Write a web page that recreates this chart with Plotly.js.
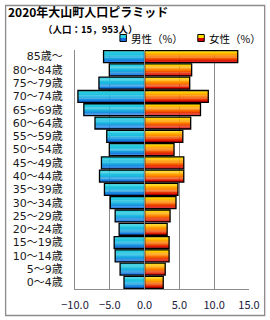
<!DOCTYPE html>
<html>
<head>
<meta charset="utf-8">
<script src="https://cdn.plot.ly/plotly-3.0.1.min.js"></script>
<style>
html,body{margin:0;padding:0;background:#fff;}
#chart{width:270px;height:320px;}
</style>
</head>
<body>
<div id="chart"></div>
<script>
// ---- data ----
const ageGroups = ["0～4歳","5～9歳","10～14歳","15～19歳","20～24歳","25～29歳","30～34歳","35～39歳","40～44歳","45～49歳","50～54歳","55～59歳","60～64歳","65～69歳","70～74歳","75～79歳","80～84歳","85歳～"];
const maleShare = [-2.96,-3.52,-4.23,-4.37,-3.66,-4.23,-4.93,-5.77,-6.48,-6.2,-5.07,-5.44,-7.13,-8.73,-9.58,-6.56,-5.07,-5.9];
const femaleShare = [2.68,2.96,3.52,3.52,3.24,3.66,4.51,4.79,5.63,5.63,4.23,5.49,6.62,8.03,9.15,6.48,6.76,13.38];
const xTicks = [-10,-5,0,5,10,15];
const titleText = "2020年大山町人口ピラミッド";
const subtitleText = "（人口：15，953人）";
const maleName = "男性（%）";
const femaleName = "女性（%）";

// ---- layout geometry ----
const L = 75, R = 249.3, T = 50, B = 289;
const W = 270, H = 320;
const px2x = p => (p - L) / (R - L);
const py2y = p => (B - p) / (B - T);

function lerp(a, b, t){ return a.map((v,i)=>Math.round(v + (b[i]-v)*t)); }
function grad(stops, t){
  const n = stops.length - 1;
  const k = Math.min(n-1, Math.floor(t*n));
  const tt = t*n - k;
  const c = lerp(stops[k], stops[k+1], tt);
  return `rgb(${c[0]},${c[1]},${c[2]})`;
}
const maleStops = [[40,210,222],[30,185,225],[20,110,222]];
const femaleStops = [[255,225,0],[255,130,0],[215,0,0]];

const BW = 0.9, N = 10;
const traces = [];
function addSeries(vals, stops){
  for (let i = 0; i < N; i++){
    traces.push({
      type:'bar', orientation:'h', y: ageGroups, x: vals,
      width: BW/N + 0.01, offset: BW/2 - (i+1)*BW/N,
      marker:{color: grad(stops, i/(N-1)), line:{width:0}},
      showlegend:false, hoverinfo:'skip'
    });
  }
  traces.push({
    type:'bar', orientation:'h', y: ageGroups, x: vals,
    width: BW, offset: -BW/2,
    marker:{color:'rgba(0,0,0,0)', line:{width:1.3, color:'#000'}},
    showlegend:false
  });
}
addSeries(maleShare, maleStops);
addSeries(femaleShare, femaleStops);

const font = "'Noto Sans CJK JP', 'Noto Sans', sans-serif";
const labelFont = "'DejaVu Sans', 'Noto Sans CJK JP', sans-serif";
const gray = '#8c8c8c';

function legendBox(x0, stops){
  return [
    {type:'rect', xref:'paper', yref:'paper', x0:px2x(x0), x1:px2x(x0+6.5), y0:py2y(38), y1:py2y(34.5), fillcolor:grad(stops,0), line:{width:0}},
    {type:'rect', xref:'paper', yref:'paper', x0:px2x(x0), x1:px2x(x0+6.5), y0:py2y(41.5), y1:py2y(38), fillcolor:grad(stops,1), line:{width:0}},
    {type:'rect', xref:'paper', yref:'paper', x0:px2x(x0), x1:px2x(x0+6.5), y0:py2y(41.5), y1:py2y(34.5), fillcolor:'rgba(0,0,0,0)', line:{width:1, color:'#000'}}
  ];
}

const layout = {
  width: W, height: H,
  margin:{l:L, r:W-R, t:T, b:H-B, pad:0},
  paper_bgcolor:'#fff', plot_bgcolor:'#fff',
  barmode:'overlay',
  showlegend:false,
  font:{family:font, size:11, color:'#1a1a1a'},
  title:{text:'<b>'+titleText+'</b>', xref:'container', yref:'container', x:8/W, xanchor:'left', y:1-12.5/H, yanchor:'middle', font:{family:font, size:12, color:'#000'}},
  xaxis:{
    range:[-10,15], tickvals:xTicks, tickformat:'.1f', fixedrange:true,
    showgrid:true, gridcolor:gray, gridwidth:1,
    zeroline:true, zerolinecolor:gray, zerolinewidth:1.2, zerolinelayer:'above traces',
    showline:true, linecolor:gray, linewidth:1,
    ticks:'', ticklabelstandoff:6,
    tickfont:{family:font, size:11, color:'#1a1a3a'}
  },
  yaxis:{
    type:'category', categoryorder:'array', categoryarray:ageGroups, fixedrange:true,
    range:[-0.5, ageGroups.length-0.5],
    showgrid:false, zeroline:false,
    showline:true, linecolor:gray, linewidth:1,
    ticks:'', ticklabelstandoff:9,
    tickfont:{family:labelFont, size:11, color:'#1a1a1a'}
  },
  annotations:[
    {text:'<b>'+subtitleText+'</b>', xref:'paper', yref:'paper', x:px2x(41), y:py2y(28.5), xanchor:'left', yanchor:'middle', showarrow:false, font:{family:font, size:9.5, color:'#000'}},
    {text:maleName, xref:'paper', yref:'paper', x:px2x(129), y:py2y(38.5), xanchor:'left', yanchor:'middle', showarrow:false, font:{family:font, size:10.5, color:'#000'}},
    {text:femaleName, xref:'paper', yref:'paper', x:px2x(207), y:py2y(38.5), xanchor:'left', yanchor:'middle', showarrow:false, font:{family:font, size:10.5, color:'#000'}}
  ],
  shapes:[
    {type:'rect', xref:'paper', yref:'paper', x0:px2x(5.5), x1:px2x(265), y0:py2y(315.5), y1:py2y(5.5), line:{color:gray, width:1.3}, fillcolor:'rgba(0,0,0,0)', layer:'below'},
    ...legendBox(120, maleStops),
    ...legendBox(198, femaleStops)
  ]
};

Plotly.newPlot('chart', traces, layout, {displayModeBar:false, staticPlot:true});
</script>
</body>
</html>
